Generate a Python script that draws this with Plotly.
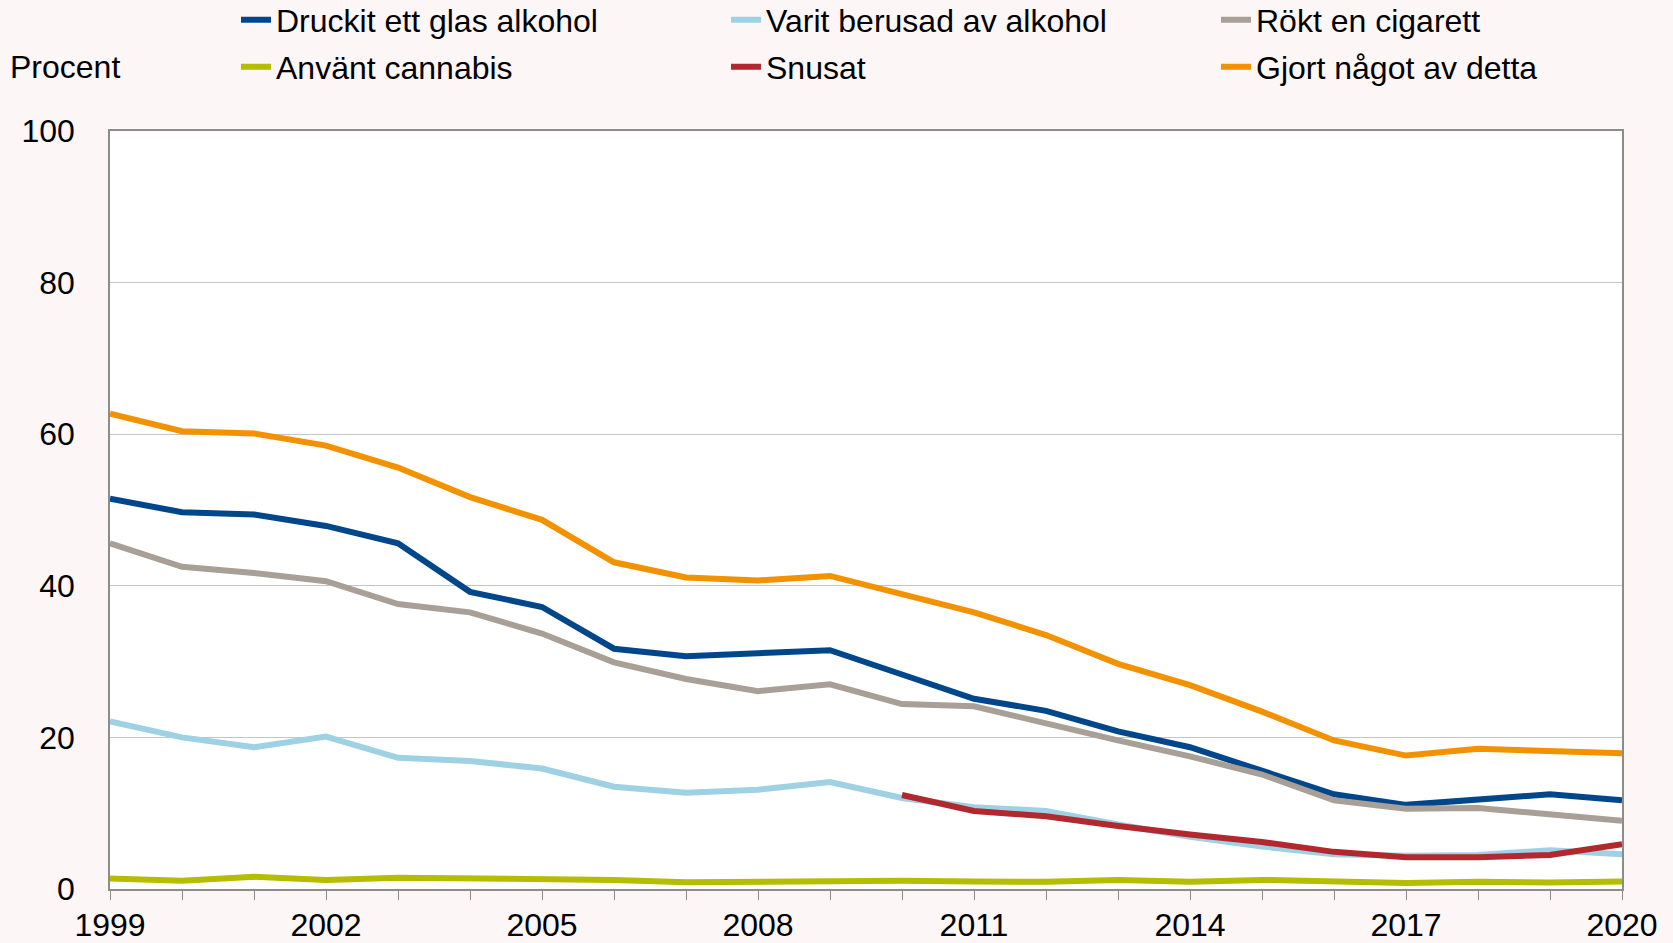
import plotly.graph_objects as go

years = list(range(1999, 2021))

druckit = [51.5, 49.7, 49.4, 47.9, 45.6, 39.2, 37.2, 31.7, 30.7, 31.1, 31.5,
           28.3, 25.1, 23.5, 20.8, 18.7, 15.5, 12.5, 11.1, 11.8, 12.5, 11.7]
berusad = [22.1, 20.0, 18.7, 20.1, 17.3, 16.9, 15.9, 13.5, 12.7, 13.1, 14.1,
           12.0, 10.8, 10.3, 8.5, 6.9, 5.6, 4.6, 4.4, 4.5, 5.1, 4.6]
rokt = [45.6, 42.5, 41.7, 40.6, 37.6, 36.5, 33.7, 29.9, 27.7, 26.1, 27.0,
        24.4, 24.1, 21.8, 19.6, 17.5, 15.1, 11.7, 10.6, 10.7, 9.9, 9.0]
cannabis = [1.4, 1.1, 1.6, 1.2, 1.5, 1.4, 1.4, 1.2, 0.9, 1.0, 1.0,
            1.1, 1.0, 0.95, 1.2, 0.95, 1.2, 1.0, 0.8, 0.95, 0.85, 1.0]
snus_years = list(range(2010, 2021))
snusat = [12.4, 10.3, 9.6, 8.3, 7.2, 6.2, 4.9, 4.2, 4.2, 4.5, 5.9]
gjort = [62.7, 60.4, 60.1, 58.5, 55.6, 51.7, 48.7, 43.1, 41.1, 40.7, 41.3,
         38.9, 36.5, 33.5, 29.7, 26.9, 23.4, 19.6, 17.6, 18.5, 18.2, 17.9]

y_ticks = [0, 20, 40, 60, 80, 100]
x_ticks = [1999, 2002, 2005, 2008, 2011, 2014, 2017, 2020]

series = [
    ("Druckit ett glas alkohol", years, druckit, "#00468B", "legend"),
    ("Varit berusad av alkohol", years, berusad, "#9ED1E3", "legend"),
    ("Rökt en cigarett", years, rokt, "#A89F97", "legend"),
    ("Använt cannabis", years, cannabis, "#B5BD00", "legend2"),
    ("Snusat", snus_years, snusat, "#B1282E", "legend2"),
    ("Gjort något av detta", years, gjort, "#F39200", "legend2"),
]

FONT = "Liberation Sans, Arial, sans-serif"
PAPER = "#FCF6F6"
fig = go.Figure()
for name, xs, ys, color, lg in series:
    fig.add_trace(go.Scatter(x=xs, y=ys, name=name, mode="lines",
                             line=dict(color=color, width=6), legend=lg))

W, H = 1673, 943
L, R, T, B = 110, 51, 131, 54
pw = W - L - R
ph = H - T - B

def px_to_x(px):
    return (px - L) / pw

def py_to_y(py):
    return (H - B - py) / ph

legend_common = dict(orientation="h", font=dict(family=FONT, size=32, color="#000"),
                     bgcolor="rgba(0,0,0,0)", entrywidth=445, xanchor="left",
                     yanchor="middle", itemwidth=30, traceorder="normal")

fig.update_layout(
    width=W, height=H,
    margin=dict(l=L, r=R, t=T, b=B, autoexpand=False),
    paper_bgcolor=PAPER,
    plot_bgcolor="#FFFFFF",
    font=dict(family=FONT, size=32, color="#000"),
    showlegend=True,
    legend=dict(x=px_to_x(236), y=py_to_y(20), **legend_common),
    legend2=dict(x=px_to_x(236), y=py_to_y(67), **legend_common),
    xaxis=dict(range=[1999, 2020], tickmode="array", tickvals=x_ticks,
               ticktext=[str(v) for v in x_ticks],
               ticks="outside", ticklen=9, tickcolor="#8C8C8C", tickwidth=1,
               ticklabelstandoff=-2,
               showline=True, linecolor="#8C8C8C", linewidth=1.5, mirror=True,
               showgrid=False, zeroline=False,
               minor=dict(tickvals=years, ticks="outside", ticklen=9,
                          tickcolor="#8C8C8C", tickwidth=1, showgrid=False),
               tickfont=dict(family=FONT, size=32, color="#000")),
    yaxis=dict(range=[0, 100], tickmode="array", tickvals=y_ticks,
               ticktext=[str(v) for v in y_ticks], ticks="",
               ticklabelstandoff=27,
               showline=True, linecolor="#8C8C8C", linewidth=1.5, mirror=True,
               showgrid=True, gridcolor="#C4C4C4", gridwidth=1, zeroline=False,
               tickfont=dict(family=FONT, size=32, color="#000")),
    annotations=[dict(text="Procent", xref="paper", yref="paper",
                      x=px_to_x(8), y=py_to_y(67), xanchor="left", yanchor="middle",
                      showarrow=False, font=dict(family=FONT, size=32, color="#000"))],
)

fig.write_html("out.html",
               config={"displayModeBar": False},
               post_script="document.body.style.margin='0';"
                           "document.body.style.overflow='hidden';"
                           "document.body.style.background='" + PAPER + "';")
